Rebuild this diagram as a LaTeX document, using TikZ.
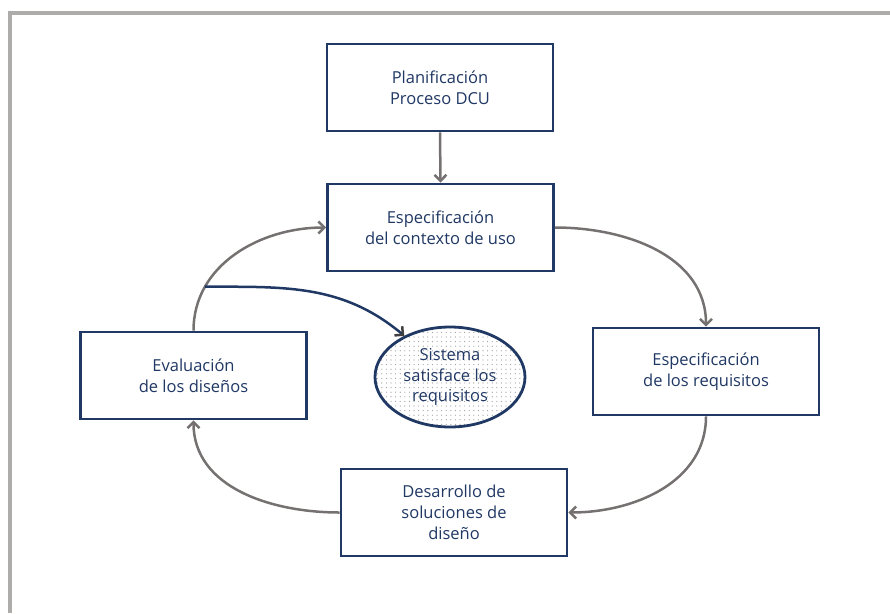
\documentclass[tikz,border=0pt]{standalone}
\usepackage{fontspec}
\setmainfont{Open Sans}
\usetikzlibrary{arrows.meta,shapes.geometric,patterns}
\definecolor{navy}{HTML}{203864}
\definecolor{flowgray}{HTML}{767171}
\definecolor{framegray}{HTML}{AEABAB}
% loose dot grid for the goal ellipse
\pgfdeclarepatternformonly{sparsedots}{\pgfpoint{-1pt}{-1pt}}{\pgfpoint{1pt}{1pt}}{\pgfpoint{4.6pt}{4.6pt}}{%
  \pgfpathcircle{\pgfpointorigin}{0.6pt}\pgfusepath{fill}}
\begin{document}
\begin{tikzpicture}[x=1pt,y=-1pt,
  stagebox/.style={draw=navy,line width=2.8pt,fill=white,minimum width=226pt,minimum height=87pt,
    align=center,text=navy,font=\fontsize{16.5}{21}\selectfont,inner sep=0pt},
  goal/.style={ellipse,draw=navy,line width=2.8pt,minimum width=150pt,minimum height=100pt,
    align=center,text=navy,font=\fontsize{16.5}{20.5}\selectfont,inner sep=0pt,
    pattern=sparsedots,pattern color=black!40},
  flow/.style={draw=flowgray,line width=2.5pt,-{Straight Barb[length=6pt,width=12pt,line width=2.5pt]}},
  exitflow/.style={draw=navy,line width=2.5pt,-{Straight Barb[length=6pt,width=12pt,line width=2.5pt,color=black!75]}}]
\useasboundingbox (0,0) rectangle (890,613);
% outer frame, open to the right and bottom
\draw[framegray,line width=4pt] (10,613) -- (10,13) -- (890,13);

% process stages
\node[stagebox] (plan) at (440,87.5) {Planificación\\Proceso DCU};
\node[stagebox] (ctx) at (440.5,227.5) {Especificación\\del contexto de uso};
\node[stagebox] (req) at (706,371.5) {Especificación\\de los requisitos};
\node[stagebox] (dev) at (454,512.5) {Desarrollo de\\soluciones de\\diseño};
\node[stagebox] (eval) at (193.5,375.5) {Evaluación\\de los diseños};
\node[goal] (done) at (450,377) {Sistema\\satisface los\\requisitos};

% flow between stages
\draw[flow] (plan.south) -- (ctx.north);
\draw[flow] (ctx.east) to[out=0,in=90] (req.north);
\draw[flow] (req.south) to[out=-90,in=0] (dev.east);
\draw[flow] (dev.west) to[out=180,in=-90] (eval.south);
\draw[flow] (eval.north) to[out=90,in=180] coordinate[pos=0.25] (branch) (ctx.west);

% exit when requirements are satisfied
\draw[exitflow] (branch) to[out=0,in=140] (done.138);
\end{tikzpicture}
\end{document}
